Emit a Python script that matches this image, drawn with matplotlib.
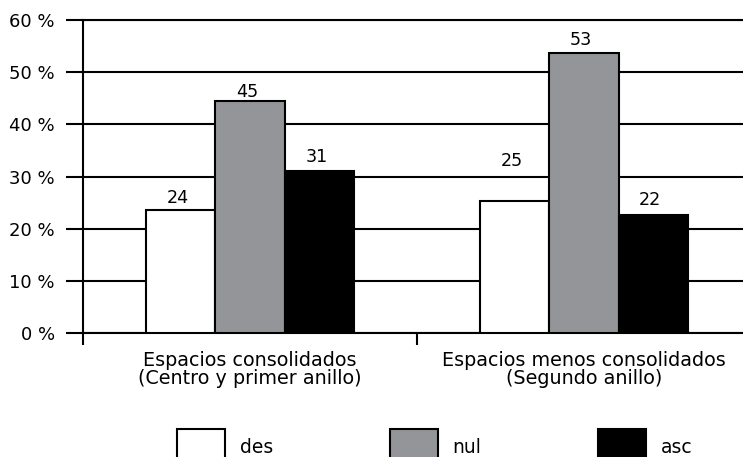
import matplotlib

matplotlib.use("Agg")
import matplotlib.pyplot as plt
from matplotlib.patches import Patch
import numpy as np

plt.rcParams["font.family"] = ["DejaVu Sans"]

# datos
categorias = ["Espacios consolidados\n(Centro y primer anillo)",
              "Espacios menos consolidados\n(Segundo anillo)"]
series = ["des", "nul", "asc"]
des = [23.6, 25.3]
nul = [44.5, 53.7]
asc = [31.0, 22.7]
etiquetas = [["24", "25"], ["45", "53"], ["31", "22"]]
yticks = [0, 10, 20, 30, 40, 50, 60]

colores = ["white", "#939598", "black"]
# separación (px) entre la barra y su etiqueta
sep_etiquetas = [[7, 35], [4, 8], [9, 10]]

W, H = 743, 457
fig = plt.figure(figsize=(W / 100, H / 100), dpi=100)
ax = fig.add_axes([83 / W, (H - 333) / H, 668 / W, 313 / H])

x = np.arange(len(categorias))
ancho = 0.207
for i, (vals, col) in enumerate(zip([des, nul, asc], colores)):
    pos = x + (i - 1) * ancho
    ax.bar(pos, vals, ancho, color=col, edgecolor="black", linewidth=1.5,
           zorder=3, label=series[i])
    for xp, v, t, s in zip(pos, vals, etiquetas[i], sep_etiquetas[i]):
        ax.annotate(t, (xp, v), xytext=(-2, s * 0.72), textcoords="offset points",
                    ha="center", va="baseline", fontsize=12.6)

ax.set_xlim(-0.5, 1.5)
ax.set_ylim(0, 60)
ax.set_yticks(yticks)
ax.set_yticklabels([f"{v} %" for v in yticks], fontsize=13)
ax.yaxis.grid(True, color="black", linewidth=1.5)
ax.set_axisbelow(True)
ax.tick_params(axis="y", direction="out", length=12.2, width=1.5, pad=8)

ax.set_xticks(x)
ax.set_xticklabels(categorias, fontsize=13.8, linespacing=0.95)
ax.tick_params(axis="x", which="major", length=0, pad=13)
ax.set_xticks([-0.5, 0.5], minor=True)
ax.tick_params(axis="x", which="minor", direction="out", length=8.6, width=1.5)

for lado in ["top", "bottom", "left"]:
    ax.spines[lado].set_linewidth(1.5)
ax.spines["right"].set_visible(False)

handles = [Patch(facecolor=c, edgecolor="black", linewidth=1.5) for c in colores]
fig.legend(handles, series, loc="center", bbox_to_anchor=(0.585, 0.022),
           ncol=3, frameon=False, fontsize=13.5, handlelength=2.56, handleheight=2.6,
           handletextpad=0.8, columnspacing=6.2, borderpad=0)

fig.savefig("out.png", dpi=100)
